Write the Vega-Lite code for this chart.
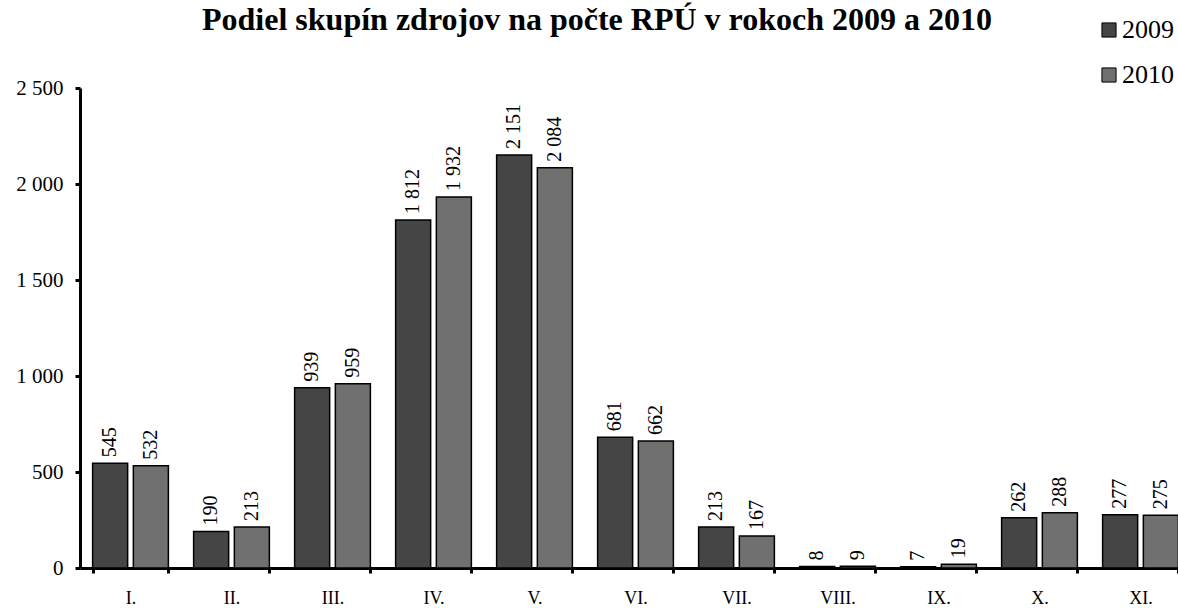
{
  "$schema": "https://vega.github.io/schema/vega-lite/v6.json",
  "autosize": {"type": "none"},
  "width": 1098,
  "height": 480,
  "padding": {"left": 80, "top": 88, "right": 0, "bottom": 40},
  "background": "white",
  "title": {
    "text": "Podiel skupín zdrojov na počte RPÚ v rokoch 2009 a 2010",
    "font": "Liberation Serif",
    "fontSize": 32,
    "fontWeight": "bold",
    "color": "black",
    "anchor": "middle",
    "dx": -32,
    "offset": -20
  },
  "config": {
    "view": {"stroke": null},
    "font": "Liberation Serif",
    "axis": {"labelFont": "Liberation Serif", "labelColor": "black", "grid": false}
  },
  "data": {
    "values": [
      {"group": "I.", "year": "2009", "value": 545},
      {"group": "I.", "year": "2010", "value": 532},
      {"group": "II.", "year": "2009", "value": 190},
      {"group": "II.", "year": "2010", "value": 213},
      {"group": "III.", "year": "2009", "value": 939},
      {"group": "III.", "year": "2010", "value": 959},
      {"group": "IV.", "year": "2009", "value": 1812},
      {"group": "IV.", "year": "2010", "value": 1932},
      {"group": "V.", "year": "2009", "value": 2151},
      {"group": "V.", "year": "2010", "value": 2084},
      {"group": "VI.", "year": "2009", "value": 681},
      {"group": "VI.", "year": "2010", "value": 662},
      {"group": "VII.", "year": "2009", "value": 213},
      {"group": "VII.", "year": "2010", "value": 167},
      {"group": "VIII.", "year": "2009", "value": 8},
      {"group": "VIII.", "year": "2010", "value": 9},
      {"group": "IX.", "year": "2009", "value": 7},
      {"group": "IX.", "year": "2010", "value": 19},
      {"group": "X.", "year": "2009", "value": 262},
      {"group": "X.", "year": "2010", "value": 288},
      {"group": "XI.", "year": "2009", "value": 277},
      {"group": "XI.", "year": "2010", "value": 275}
    ]
  },
  "transform": [
    {"calculate": "replace(format(datum.value, ','), ',', ' ')", "as": "label"}
  ],
  "encoding": {
    "x": {
      "field": "group",
      "type": "nominal",
      "sort": null,
      "scale": {"range": [0, 1111], "paddingInner": 0.25, "paddingOuter": 0.125},
      "axis": {
        "title": null,
        "labelAngle": 0,
        "labelFontSize": 18,
        "labelPadding": 16,
        "tickBand": "extent",
        "domainColor": "black",
        "domainWidth": 3,
        "tickColor": "black",
        "tickWidth": 3,
        "tickSize": 5
      }
    },
    "xOffset": {"field": "year", "type": "nominal", "scale": {"paddingInner": 0.14, "paddingOuter": 0}},
    "y": {
      "field": "value",
      "type": "quantitative",
      "scale": {"domain": [0, 2500], "nice": false},
      "axis": {
        "title": null,
        "values": [0, 500, 1000, 1500, 2000, 2500],
        "labelExpr": "replace(format(datum.value, ','), ',', ' ')",
        "labelFontSize": 21,
        "labelPadding": 12,
        "domainColor": "black",
        "domainWidth": 3,
        "tickColor": "black",
        "tickWidth": 3,
        "tickSize": 5
      }
    }
  },
  "layer": [
    {
      "mark": {"type": "bar", "stroke": "black", "strokeWidth": 1.5},
      "encoding": {
        "fill": {
          "field": "year",
          "type": "nominal",
          "scale": {"domain": ["2009", "2010"], "range": ["#454545", "#707070"]},
          "legend": {
            "title": null,
            "orient": "none",
            "legendX": 1016,
            "legendY": -71,
            "padding": 0,
            "symbolType": "square",
            "symbolSize": 200,
            "symbolStrokeColor": "black",
            "symbolStrokeWidth": 1,
            "labelFont": "Liberation Serif",
            "labelFontSize": 26,
            "labelColor": "black",
            "labelOffset": 0,
            "rowPadding": 19
          }
        }
      }
    },
    {
      "mark": {"type": "text", "angle": 270, "align": "left", "baseline": "middle", "dx": 6, "fontSize": 20, "font": "Liberation Serif", "color": "black"},
      "encoding": {
        "text": {"field": "label", "type": "nominal"}
      }
    }
  ]
}
